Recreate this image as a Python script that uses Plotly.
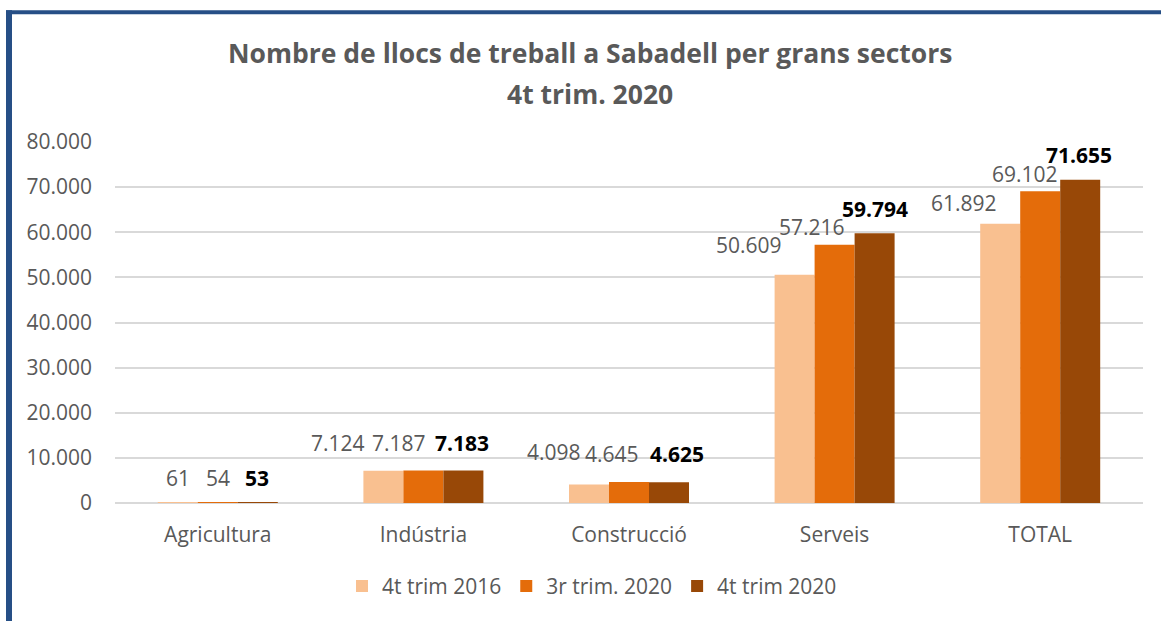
import plotly.graph_objects as go

categories = ["Agricultura", "Indústria", "Construcció", "Serveis", "TOTAL"]
series_names = ["4t trim 2016", "3r trim. 2020", "4t trim 2020"]
vals_2016 = [61, 7124, 4098, 50609, 61892]
vals_3t2020 = [54, 7187, 4645, 57216, 69102]
vals_4t2020 = [53, 7183, 4625, 59794, 71655]
tick_values = [0, 10000, 20000, 30000, 40000, 50000, 60000, 70000, 80000]

series_values = [vals_2016, vals_3t2020, vals_4t2020]
colors = ["#F9C090", "#E46C0A", "#984807"]

# label nudges (pixels) relative to bar center / bar top, per series and category
label_dx = [
    [0, -45, -35, -46, -36],
    [0, -24, -17, -23, -15],
    [-1, -1, 8, 0, -1],
]
label_dy = [
    [25, 28, 33, 30, 21],
    [25, 28, 28, 18, 17],
    [25, 28, 28, 24, 25],
]

FONT = "Open Sans"
GREY = "#595959"

L, R, T, B = 115, 18, 141.5, 117.5
W, H = 1161, 621
PW, PH = W - L - R, H - T - B


def px_x(px):
    return (px - L) / PW


def px_y(py):
    return (H - B - py) / PH


fig = go.Figure()
for name, vals, col in zip(series_names, series_values, colors):
    fig.add_trace(go.Bar(
        name=name, x=categories, y=vals, marker=dict(color=col, line=dict(width=0)),
        hoverinfo="x+y",
    ))

group_px = 120
bar_px = group_px / 3
annotations = []
for si, vals in enumerate(series_values):
    for ci, v in enumerate(vals):
        txt = f"{v:,}".replace(",", ".")
        bold = si == 2
        annotations.append(dict(
            x=categories[ci], y=v, xref="x", yref="y",
            text=f"<b>{txt}</b>" if bold else txt,
            showarrow=False, xanchor="center", yanchor="middle",
            xshift=(si - 1) * bar_px + label_dx[si][ci],
            yshift=label_dy[si][ci],
            font=dict(family=FONT, size=21, color="#000000" if bold else GREY),
        ))

annotations.append(dict(
    x=px_x(590), y=px_y(52), xref="paper", yref="paper",
    text="<b>Nombre de llocs de treball a Sabadell per grans sectors</b>",
    showarrow=False, xanchor="center", yanchor="middle",
    font=dict(family=FONT, size=26.5, color=GREY),
))
annotations.append(dict(
    x=px_x(590), y=px_y(93), xref="paper", yref="paper",
    text="<b>4t trim. 2020</b>",
    showarrow=False, xanchor="center", yanchor="middle",
    font=dict(family=FONT, size=26.5, color=GREY),
))

shapes = [
    dict(type="rect", xref="paper", yref="paper",
         x0=px_x(6), x1=px_x(12), y0=px_y(640), y1=px_y(9.5),
         fillcolor="#264F86", line=dict(width=0), layer="above"),
    dict(type="rect", xref="paper", yref="paper",
         x0=px_x(6), x1=px_x(1170), y0=px_y(13.5), y1=px_y(9.5),
         fillcolor="#264F86", line=dict(width=0), layer="above"),
]

fig.update_layout(
    width=W, height=H,
    margin=dict(l=L, r=R, t=T, b=B, pad=0),
    paper_bgcolor="white", plot_bgcolor="white",
    separators=",.",
    barmode="group", bargap=1 - group_px / (PW / 5), bargroupgap=0,
    showlegend=True,
    legend=dict(
        orientation="h", x=px_x(592), y=px_y(587), xanchor="center", yanchor="middle",
        font=dict(family=FONT, size=21, color=GREY), traceorder="normal",
        itemwidth=30,
    ),
    font=dict(family=FONT, color=GREY),
    annotations=annotations,
    shapes=shapes,
)
fig.update_xaxes(
    showgrid=False, showline=False, ticks="", ticklabelstandoff=17,
    tickfont=dict(family=FONT, size=21, color=GREY),
)
fig.update_yaxes(
    range=[0, 80000], tickvals=tick_values, tickformat=",d",
    showgrid=True, gridcolor="#D9D9D9", gridwidth=1.5,
    zeroline=True, zerolinecolor="#D9D9D9", zerolinewidth=1.5,
    showline=False, ticks="", ticklabelstandoff=22,
    tickfont=dict(family=FONT, size=21, color=GREY),
)

fig.write_html("out.html")
